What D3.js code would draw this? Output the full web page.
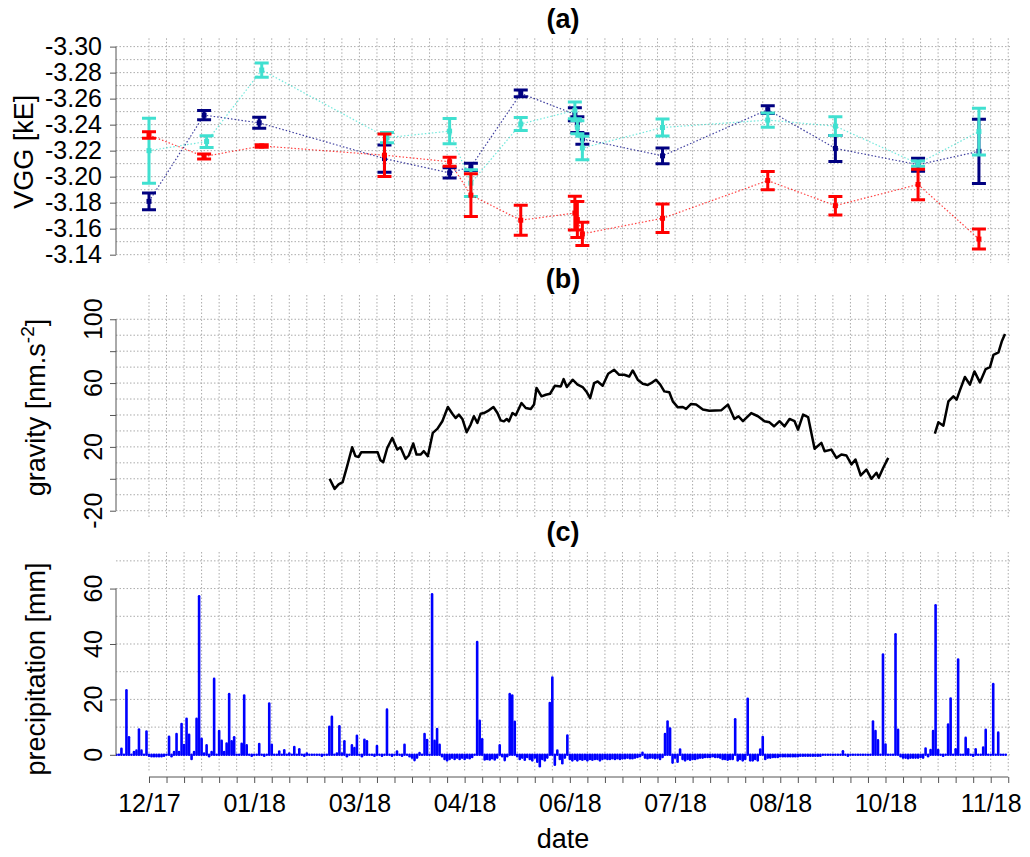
<!DOCTYPE html>
<html>
<head>
<meta charset="utf-8">
<script src="https://cdn.jsdelivr.net/npm/d3@7"></script>
<style>
body { margin: 0; background: #fff; }
svg text { font-family: 'Liberation Sans', Arial, sans-serif; fill: #000; }
</style>
</head>
<body>
<div id="chart"></div>
<script>
// day numbers count from 2017-12-18 (first VGG survey), ticks are weekly
const tickLabels = ['12/17', '01/18', '03/18', '04/18', '06/18', '07/18', '08/18', '10/18', '11/18']

// (a) vertical gravity gradient, three series with error bars
const cyanDay = [0, 23, 45, 95, 120, 128.5, 148.4, 170, 171, 173, 205, 247, 274, 307, 331.3]
const cyanVgg = [-3.220, -3.227, -3.282, -3.230, -3.235, -3.195, -3.2405, -3.251, -3.238, -3.222, -3.2378, -3.2435, -3.2388, -3.210, -3.2347]
const cyanErr = [0.025, 0.0045, 0.0055, 0.004, 0.0097, 0.0103, 0.005, 0.0065, 0.005, 0.009, 0.0065, 0.0055, 0.0072, 0.002, 0.018]

const navyDay = [0, 22, 44, 94, 120, 128.5, 148.4, 170, 171, 173, 205, 247, 274, 307, 331.3]
const navyVgg = [-3.181, -3.2473, -3.2414, -3.2139, -3.2029, -3.2076, -3.264, -3.248, -3.240, -3.229, -3.216, -3.2515, -3.2217, -3.2092, -3.2195]
const navyErr = [0.0065, 0.0035, 0.0042, 0.0105, 0.004, 0.0028, 0.0026, 0.005, 0.006, 0.004, 0.006, 0.003, 0.01, 0.005, 0.0247]

const redDay = [0, 22, 45, 94, 120, 128.5, 148.4, 170, 171, 173, 205, 247, 274, 307, 331.3]
const redVgg = [-3.232, -3.2155, -3.2236, -3.2165, -3.2115, -3.1858, -3.1665, -3.172, -3.167, -3.156, -3.168, -3.197, -3.1777, -3.194, -3.152]
const redErr = [0.0025, 0.002, 0.001, 0.0163, 0.0035, 0.0165, 0.0115, 0.013, 0.0138, 0.009, 0.011, 0.007, 0.0071, 0.0117, 0.0077]

// (b) gravity residual, null marks the data gap
const gravDay = [72.1, 74.1, 75.7, 77.3, 79.1, 81.1, 82.4, 83.7, 84.7, 91.3, 92.4, 93.5, 95.1, 97.1, 99.1, 100.4, 102.4, 103.7, 105.5, 106.8,
    108.4, 109.7, 111.3, 113.3, 115.1, 117.1, 119.3, 121.1, 122.4, 123.7, 125.1, 126.8, 128.4, 129.7, 131.1, 132.4, 133.7, 135.7, 137.5, 139.1,
    140.4, 141.7, 142.8, 143.7, 145.1, 146.4, 148.7, 150.4, 152.4, 153.7, 154.7, 156.7, 158.4, 160.1, 162, 164.4, 165.5, 166.8, 169.1, 171.1,
    173.1, 174.8, 176.1, 177.7, 179.1, 181.1, 183.3, 185.7, 187.7, 189.7, 191.7, 193.1, 195.1, 197.1, 199.1, 201.1, 202.4, 204.1, 205.7, 207.7,
    209.1, 211.1, 213.1, 214.4, 216.4, 218.4, 221.1, 223.7, 228.4, 231.1, 233.7, 235.3, 237.1, 240.4, 243.1, 245.7, 247.7, 249.5, 251.7, 253.7,
    255.7, 257.7, 259.1, 261.1, 263.1, 265.7, 268.4, 269.7, 272.4, 274.4, 276.4, 278.4, 280.4, 282, 284.1, 286.4, 288.4, 290.4, 291.3, 293.1,
    295.1, null, 313.7, 315.1, 317.1, 319.1, 321.1, 322.4, 323.7, 325.7, 327.7, 329.5, 331.7, 334, 335.7, 337.1, 339.1, 340.4, 341.7]
const gravVal = [0, -6.3, -3.5, -2.1, 7.9, 19.8, 14.2, 13.7, 16.6, 16.6, 11.6, 10.4, 19.3, 25.6, 18.3, 19.8, 12.5, 14.6, 22.1, 15.2,
    15.2, 17.3, 14.2, 28.8, 31.3, 36.1, 45, 40.8, 38.1, 40.2, 37.5, 29.2, 34, 39.2, 35, 40.8, 41.2, 42.9, 45, 41.2,
    36.6, 36, 37.5, 36, 41.2, 39.8, 47.5, 44.4, 43.7, 46.5, 56.9, 51.7, 52.7, 53.3, 58.3, 57.9, 62.5, 57.5, 62.1, 59,
    57.5, 54.2, 50.6, 60, 61, 58.3, 65.8, 68.3, 65.2, 65.2, 64.1, 67.9, 62.1, 59.6, 58.8, 60.6, 62.1, 59, 54.8, 54.2,
    48.5, 44.8, 45, 43.8, 46.9, 46.5, 43.4, 42.7, 42.9, 46.5, 37.5, 39.2, 36.1, 41.2, 39.2, 36.1, 35.4, 32.9, 36.1, 32.9,
    37.5, 36.1, 30.8, 40.2, 38.7, 18.8, 22.5, 17.3, 18.3, 13.1, 15.2, 14.6, 9, 12.1, 2.1, 5.8, 0, 3.8, 0.6, 6.9,
    13.1, null, 28.3, 35.4, 33.3, 48.5, 51.7, 49.6, 55.4, 63.8, 59, 67.3, 60.4, 68.8, 70, 77.7, 79.2, 86, 90.8]

// (c) daily precipitation from day -13 to day 342
const precipStart = -13
const precipMm = [
    0, 0, 2.2, 0, 23.3, 6.3, 0, 1, 1.5, 9.1,
    1.5, 0, 8.4, -0.3, -0.5, -0.5, -0.5, -0.5, -0.5, -0.3,
    0, 6.5, -0.5, 1, 7.5, 1, 11.1, 3.5, 13, 7.2,
    -1.5, 1, 13, 57.2, 5.8, 0.5, 3.4, -0.5, 1, 27.4,
    0, 8.6, 5.1, 1, 4.1, 21.9, 4.9, 6.3, 0, 0,
    4, 21.4, 3.4, 0, -0.3, 0, 0, 3.9, 0, -0.3,
    0, 18.5, 3.6, 0, 0, 1.2, 0, 1.6, 0, 0.5,
    0, 2.8, 0, 2, 0, -0.3, 0.5, 0, 0, 0,
    0, 0, -0.3, 0, 0, 10.1, 13.7, 0, 0.5, 10.3,
    0.5, 4.9, -0.5, 0, 3.4, 2.4, 6.9, 0, -0.5, 5.4,
    4.9, 0, 0, -0.3, 3.2, 0, -0.3, 0, 16.3, 0,
    -0.3, 0, 1.2, 0, -0.3, 3.6, 0, -0.5, -1, -1.9,
    -1, 0.6, 0, 7.5, 5.3, 0, 57.9, 5.1, 9.3, 3.6,
    -0.5, -1.5, -2, -1.5, -1, -1.5, -1, -1.5, -1, -1.5,
    -1, -1.2, -0.8, 0, 40.7, 12.3, 5.6, -1.7, -1.5, -1.7,
    -1.2, -1.7, -1, 3.4, -0.5, -1.9, -0.5, 21.9, 21.4, 11.9,
    -0.5, -1.5, -1, -1.8, -0.8, -1.5, -2, -1, -2.5, -4.1,
    -1.5, -2, -1, 18.7, 27.9, -3.6, 1.5, -1.5, -3, -1,
    7, -1.5, -2, -1.5, -2, -1.5, -1.8, -1.5, -2, -1.5,
    -1.8, -1.5, -1.5, -2, -1.5, -1.2, -1.5, -1.5, -1.2, -1.5,
    -1.2, -1.5, -1.2, -1.2, -1, -1.2, -1.2, -1, -0.8, -0.5,
    0.7, -1, -1.2, -1, -1, -1.2, -1, -1.5, -0.8, 7.5,
    12, 9.5, -2.8, -1, -2.5, 1.9, -1.5, -2, -1.5, -1.8,
    -1.5, -1.5, -1.2, -1, -1, -0.8, -0.8, -0.8, -0.5, -0.8,
    -0.8, -1, -1.5, -1.5, -1.8, -1.5, -1.5, 12.8, -2, -1.5,
    -2, -1.5, 20.2, -2, -2, -1.5, -2, 1.9, 6.4, -1.5,
    -1, -1, -0.8, -0.8, -0.8, -0.5, -0.5, -0.5, -0.5, -0.5,
    -0.5, -0.5, -0.5, -0.3, -0.3, -0.3, -0.3, -0.3, -0.3, -0.3,
    -0.3, -0.3, 0, 0, 0, 0, 0, 0, 0, 0,
    1.3, 0, -0.3, 0, 0, 0, 0, 0, 0, 0,
    0, 0, 12, 8.6, 5.2, 0, 36.2, 3.7, 0, 0,
    0, 43.5, 9, -0.5, -1, -1, -1.2, -1, -1, -1,
    -1, -0.8, -1, 2.3, -0.5, 1.7, 8.6, 54, 1.7, 0,
    -0.3, 0, 10.9, 20.3, 0, 2, 34.4, 0, 0, 6.1,
    2, 0, -0.3, 2, 0, 0, 2.6, 9, 0, 0,
    25.5, 0, 8, 0, 0, 0]

const vggTicks = [-3.30, -3.28, -3.26, -3.24, -3.22, -3.20, -3.18, -3.16, -3.14]
const gravTicks = [-20, 0, 20, 40, 60, 80, 100]
const gravLabels = [-20, 20, 60, 100]
const precipTicks = [0, 20, 40, 60]

const width = 1030
const height = 857
const left = 116
const right = 1010
const gridColour = '#ababab'

const svg = d3.select('#chart')
    .append('svg')
    .attr('width', width)
    .attr('height', height)

let x = d3.scaleLinear().domain([-13.17, 343.7]).range([left, right])
let weekDays = d3.range(0, 344, 7)

let yA = d3.scaleLinear().domain([-3.3064, -3.1336]).range([38.3, 263])
let yB = d3.scaleLinear().domain([-25.2, 115.2]).range([519, 295])
let yC = d3.scaleLinear().domain([-6.2, 73.2]).range([772, 552])

function grid(y, hVals) {
    let [bottom, top] = y.range()
    let g = svg.append('g')
        .attr('stroke', gridColour)
        .attr('stroke-width', 1)
        .attr('stroke-dasharray', '1.5,2')
    g.selectAll('.v')
        .data(weekDays)
        .enter()
        .append('line')
        .attr('x1', d => x(d))
        .attr('x2', d => x(d))
        .attr('y1', Math.min(top, bottom))
        .attr('y2', Math.max(top, bottom))
    g.selectAll('.h')
        .data(hVals)
        .enter()
        .append('line')
        .attr('x1', left)
        .attr('x2', right)
        .attr('y1', d => y(d))
        .attr('y2', d => y(d))
}

function clipFor(id, y) {
    let r = y.range()
    svg.append('clipPath')
        .attr('id', id)
        .append('rect')
        .attr('x', left)
        .attr('y', Math.min(r[0], r[1]))
        .attr('width', right - left)
        .attr('height', Math.abs(r[0] - r[1]))
}

grid(yA, d3.range(0, 17).map(i => -3.30 + i * 0.01))
grid(yB, d3.range(-20, 101, 10))
grid(yC, d3.range(0, 71, 10))
clipFor('clipA', yA)
clipFor('clipB', yB)
clipFor('clipC', yC)

// ---- panel (a)
function errorSeries(days, vals, errs, colour) {
    let g = svg.append('g').attr('clip-path', 'url(#clipA)')
    let line = d3.line()
        .x((d, i) => x(days[i]))
        .y(d => yA(d))
    g.append('path')
        .datum(vals)
        .attr('d', line)
        .attr('fill', 'none')
        .attr('stroke', colour)
        .attr('stroke-width', 1.2)
        .attr('stroke-dasharray', '1.5,2')
        .attr('opacity', 0.75)
    let bars = g.selectAll('.bar')
        .data(vals)
        .enter()
        .append('g')
        .attr('stroke', colour)
        .attr('stroke-width', 3)
    bars.append('line')
        .attr('x1', (d, i) => x(days[i]))
        .attr('x2', (d, i) => x(days[i]))
        .attr('y1', (d, i) => yA(d - errs[i]))
        .attr('y2', (d, i) => yA(d + errs[i]))
    bars.append('line')
        .attr('x1', (d, i) => x(days[i]) - 7)
        .attr('x2', (d, i) => x(days[i]) + 7)
        .attr('y1', (d, i) => yA(d - errs[i]))
        .attr('y2', (d, i) => yA(d - errs[i]))
    bars.append('line')
        .attr('x1', (d, i) => x(days[i]) - 7)
        .attr('x2', (d, i) => x(days[i]) + 7)
        .attr('y1', (d, i) => yA(d + errs[i]))
        .attr('y2', (d, i) => yA(d + errs[i]))
    g.selectAll('.pt')
        .data(vals)
        .enter()
        .append('rect')
        .attr('x', (d, i) => x(days[i]) - 2.5)
        .attr('y', d => yA(d) - 2.5)
        .attr('width', 5)
        .attr('height', 5)
        .attr('fill', colour)
}

errorSeries(navyDay, navyVgg, navyErr, '#000080')
errorSeries(cyanDay, cyanVgg, cyanErr, '#40e0d0')
errorSeries(redDay, redVgg, redErr, '#ff0000')

// ---- panel (b)
let gravLine = d3.line()
    .defined((d, i) => d != null && gravDay[i] != null)
    .x((d, i) => x(gravDay[i]))
    .y(d => yB(d))

svg.append('path')
    .datum(gravVal)
    .attr('clip-path', 'url(#clipB)')
    .attr('d', gravLine)
    .attr('fill', 'none')
    .attr('stroke', '#000')
    .attr('stroke-width', 2.5)
    .attr('stroke-linejoin', 'round')

// ---- panel (c)
svg.append('g')
    .attr('clip-path', 'url(#clipC)')
    .selectAll('line')
    .data(precipMm)
    .enter()
    .append('line')
    .attr('x1', (d, i) => x(precipStart + i))
    .attr('x2', (d, i) => x(precipStart + i))
    .attr('y1', yC(0))
    .attr('y2', d => yC(d))
    .attr('stroke', '#0000ff')
    .attr('stroke-width', 2.6)
    .attr('stroke-linecap', 'round')

// ---- axes
function styleAxis(g) {
    g.select('.domain').remove()
    g.selectAll('line').attr('stroke', '#555')
    g.selectAll('text')
        .style('font-size', '25px')
        .style('font-family', "'Liberation Sans', Arial, sans-serif")
}

function axisLine(x1, y1, x2, y2) {
    svg.append('line')
        .attr('x1', x1).attr('y1', y1)
        .attr('x2', x2).attr('y2', y2)
        .attr('stroke', '#555')
        .attr('stroke-width', 1)
}

svg.append('g')
    .attr('transform', `translate(${left},0)`)
    .call(d3.axisLeft(yA).tickValues(vggTicks).tickSize(6).tickPadding(8).tickFormat(d => d.toFixed(2)))
    .call(styleAxis)
axisLine(left, yA(-3.30), left, yA(-3.14))

svg.append('g')
    .attr('transform', `translate(${left},0)`)
    .call(d3.axisLeft(yB).tickValues(gravTicks).tickSize(6).tickFormat(''))
    .call(styleAxis)
axisLine(left, yB(-20), left, yB(100))
svg.selectAll('.gravlab')
    .data(gravLabels)
    .enter()
    .append('text')
    .attr('transform', d => `translate(101.7,${yB(d)}) rotate(-90)`)
    .attr('text-anchor', 'middle')
    .style('font-size', '25px')
    .text(d => d)

svg.append('g')
    .attr('transform', `translate(${left},0)`)
    .call(d3.axisLeft(yC).tickValues(precipTicks).tickSize(6).tickFormat(''))
    .call(styleAxis)
axisLine(left, yC(0), left, yC(60))
svg.selectAll('.preclab')
    .data(precipTicks)
    .enter()
    .append('text')
    .attr('transform', d => `translate(101.7,${yC(d)}) rotate(-90)`)
    .attr('text-anchor', 'middle')
    .style('font-size', '25px')
    .text(d => d)

let xAxis = d3.axisBottom(x)
    .tickValues(weekDays)
    .tickSize(6)
    .tickPadding(11)
    .tickFormat(d => d % 42 === 0 ? tickLabels[d / 42] : '')

svg.append('g')
    .attr('transform', 'translate(0,777)')
    .call(xAxis)
    .call(styleAxis)
axisLine(x(0), 777, x(weekDays[weekDays.length - 1]), 777)

// ---- titles and labels
const titles = [['(a)', 27.6], ['(b)', 288], ['(c)', 541]]
svg.selectAll('.title')
    .data(titles)
    .enter()
    .append('text')
    .attr('x', (left + right) / 2)
    .attr('y', d => d[1])
    .attr('text-anchor', 'middle')
    .style('font-size', '27px')
    .style('font-weight', 'bold')
    .text(d => d[0])

svg.append('text')
    .attr('transform', 'translate(33,151.7) rotate(-90)')
    .attr('text-anchor', 'middle')
    .style('font-size', '27px')
    .text('VGG [kE]')

let gl = svg.append('text')
    .attr('transform', 'translate(45,407.5) rotate(-90)')
    .attr('text-anchor', 'middle')
    .style('font-size', '27px')
gl.append('tspan').text('gravity [nm.s')
gl.append('tspan').attr('dy', -11).style('font-size', '19px').text('-2')
gl.append('tspan').attr('dy', 11).text(']')

svg.append('text')
    .attr('transform', 'translate(45,669) rotate(-90)')
    .attr('text-anchor', 'middle')
    .style('font-size', '27px')
    .text('precipitation [mm]')

svg.append('text')
    .attr('x', (left + right) / 2)
    .attr('y', 848)
    .attr('text-anchor', 'middle')
    .style('font-size', '27px')
    .text('date')
</script>
</body>
</html>
